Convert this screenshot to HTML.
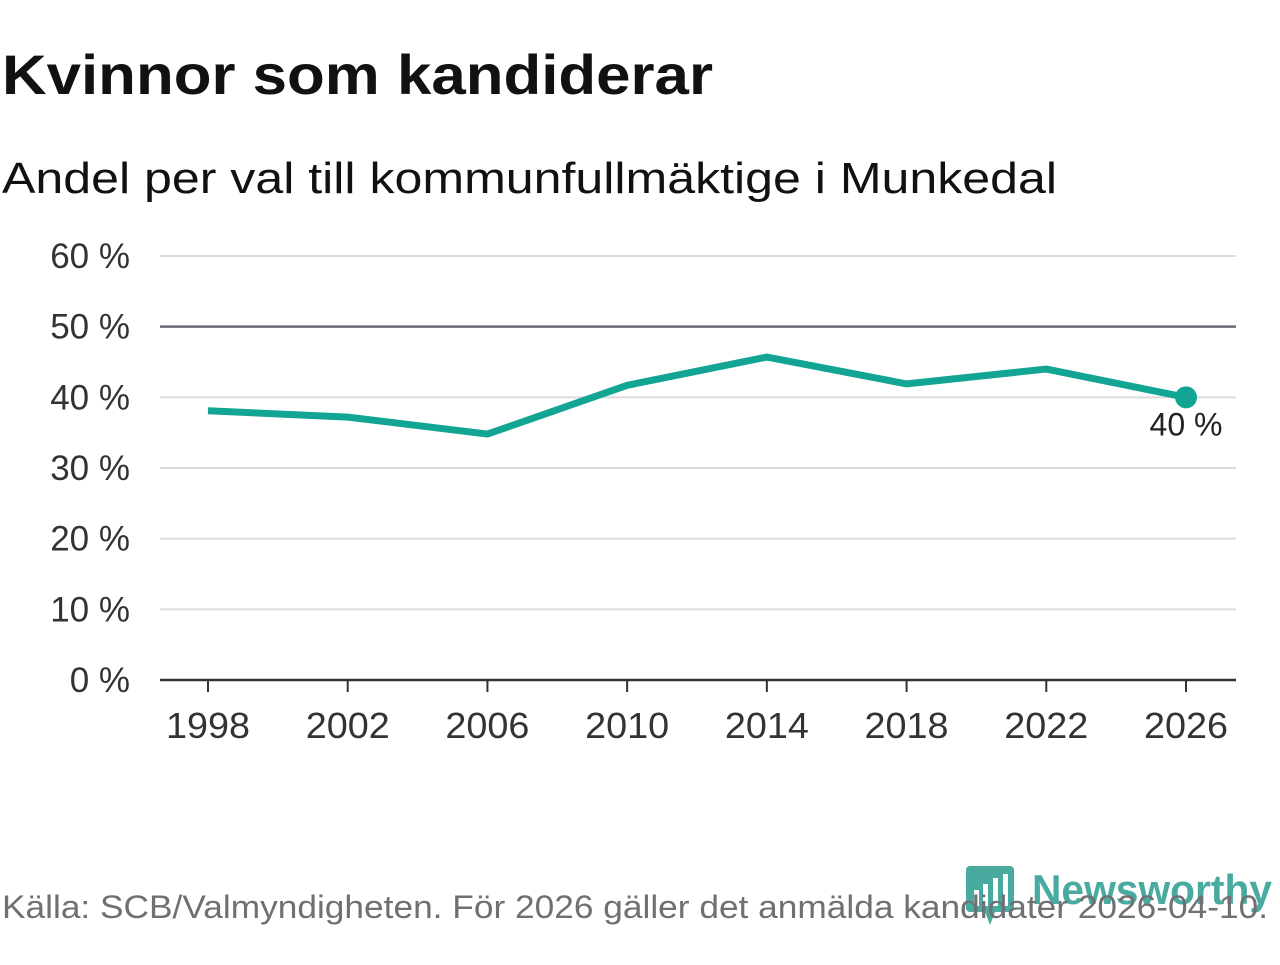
<!DOCTYPE html>
<html><head><meta charset="utf-8"><style>
body{margin:0;width:1280px;height:960px;background:#fff;overflow:hidden;font-family:"Liberation Sans",sans-serif;}
</style></head><body>
<svg width="1280" height="960" viewBox="0 0 1280 960" xmlns="http://www.w3.org/2000/svg" id="chart">
<text x="2" y="94" font-size="56" font-weight="bold" fill="#111" textLength="711" lengthAdjust="spacingAndGlyphs">Kvinnor som kandiderar</text>
<text x="2" y="193" font-size="44" fill="#111" textLength="1055" lengthAdjust="spacingAndGlyphs">Andel per val till kommunfullmäktige i Munkedal</text>
<g id="grid"></g>
<g id="xaxis"></g>
<g id="series"></g>
<g opacity="0.85">
<rect x="966" y="866" width="48" height="46" rx="4" fill="#2a9d8f"/>
<polygon points="985,912 995,912 990,925" fill="#2a9d8f"/>
<rect x="974" y="890" width="5" height="16" fill="#fff"/><rect x="983" y="884" width="5" height="22" fill="#fff"/><rect x="993" y="878" width="5" height="28" fill="#fff"/><rect x="1003" y="874" width="5" height="32" fill="#fff"/>
<text x="1032" y="904" font-size="42" font-weight="bold" fill="#2a9d8f" textLength="240" lengthAdjust="spacingAndGlyphs">Newsworthy</text>
</g>
<text x="2" y="918" font-size="32" fill="#6f6f74" textLength="1266" lengthAdjust="spacingAndGlyphs">Källa: SCB/Valmyndigheten. För 2026 gäller det anmälda kandidater 2026-04-10.</text>
</svg>
<script>
const years=[1998,2002,2006,2010,2014,2018,2022,2026];
const values=[38.1,37.2,34.8,41.7,45.7,41.9,44.0,40.0];
const yTicks=[0,10,20,30,40,50,60];
const NS="http://www.w3.org/2000/svg";
const x=v=>208+(v-1998)*(1186-208)/28;
const y=v=>680-v*(680-256)/60;
function mk(t,a,p){const e=document.createElementNS(NS,t);for(const k in a)e.setAttribute(k,a[k]);p.appendChild(e);return e;}
const grid=document.getElementById('grid'),xa=document.getElementById('xaxis'),s=document.getElementById('series');
yTicks.forEach(t=>{
 const l=mk('line',{x1:160,x2:1236,y1:y(t),y2:y(t),stroke:t===50?'#6b6b78':(t===0?'#333':'#dcdcdc'),'stroke-width':t===0||t===50?2.5:2},grid);
 
 
 const tx=mk('text',{x:130,y:y(t)+12,'font-size':35,fill:'#333','text-anchor':'end'},grid);
 tx.textContent=t+' %';
 
 
});
years.forEach(yr=>{
 const l=mk('line',{x1:x(yr),x2:x(yr),y1:680,y2:692,stroke:'#333','stroke-width':2},xa);
 
 
 const tx=mk('text',{x:x(yr),y:738,'font-size':36,fill:'#333','text-anchor':'middle','textLength':84,'lengthAdjust':'spacingAndGlyphs'},xa);
 tx.textContent=yr;
 
 
});
const p=mk('polyline',{points:years.map((yr,i)=>x(yr)+','+y(values[i])).join(' '),fill:'none',stroke:'#12a594','stroke-width':7,'stroke-linejoin':'round'},s);


const n=years.length-1;
const c=mk('circle',{cx:x(years[n]),cy:y(values[n]),r:11,fill:'#12a594'},s);


const lb=mk('text',{x:x(years[n]),y:y(values[n])+38,'font-size':32,fill:'#222','text-anchor':'middle'},s);
lb.textContent=Math.round(values[n])+' %';


</script>
</body></html>
